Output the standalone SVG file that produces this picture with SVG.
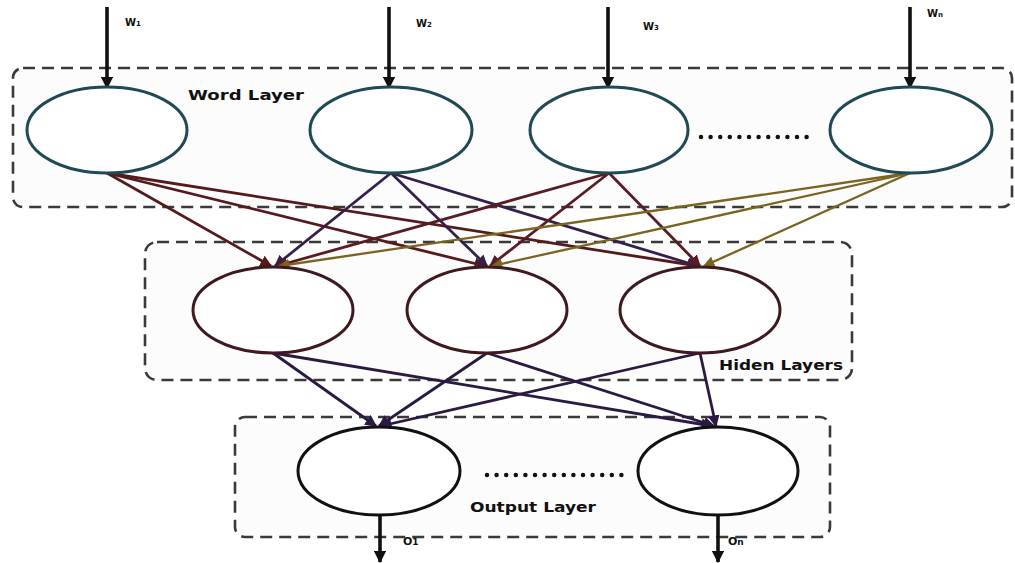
<svg xmlns="http://www.w3.org/2000/svg" width="1015" height="563" viewBox="0 0 1015 563">
  <style>
    .layer { fill: #fcfcfc; stroke: #3a3a3a; stroke-width: 2.6; stroke-dasharray: 12 7; }
    .word { fill: #ffffff; stroke: #1f4a55; stroke-width: 3; }
    .hidden { fill: #ffffff; stroke: #3e1a1e; stroke-width: 3; }
    .out { fill: #ffffff; stroke: #111111; stroke-width: 3; }
    .io { stroke: #111; stroke-width: 3.6; fill: none; }
    .lbl { font-family: "DejaVu Sans", "Liberation Sans", sans-serif; font-weight: bold; fill: #111; }
    .dots { stroke: #111; stroke-width: 4.5; stroke-dasharray: 0 9.6; stroke-linecap: round; }
    .c1 { stroke: #551a1c; stroke-width: 2.8; fill: none; }
    .c2 { stroke: #36204a; stroke-width: 2.8; fill: none; }
    .c3 { stroke: #5a1b22; stroke-width: 2.8; fill: none; }
    .c4 { stroke: #7a6420; stroke-width: 2.3; fill: none; }
    .c5 { stroke: #2a1a42; stroke-width: 2.8; fill: none; }
  </style>
  <defs>
    <marker id="headIO" viewBox="0 0 10 10" refX="9" refY="5" markerWidth="3.4" markerHeight="3.4" orient="auto">
      <path d="M0,0 L10,5 L0,10 Z" fill="#111"/>
    </marker>
    <marker id="h1" viewBox="0 0 10 10" refX="9" refY="5" markerWidth="4.2" markerHeight="4.2" orient="auto">
      <path d="M0,0 L10,5 L0,10 Z" fill="#551a1c"/>
    </marker>
    <marker id="h2" viewBox="0 0 10 10" refX="9" refY="5" markerWidth="4.2" markerHeight="4.2" orient="auto">
      <path d="M0,0 L10,5 L0,10 Z" fill="#36204a"/>
    </marker>
    <marker id="h3" viewBox="0 0 10 10" refX="9" refY="5" markerWidth="4.2" markerHeight="4.2" orient="auto">
      <path d="M0,0 L10,5 L0,10 Z" fill="#5a1b22"/>
    </marker>
    <marker id="h4" viewBox="0 0 10 10" refX="9" refY="5" markerWidth="5" markerHeight="5" orient="auto">
      <path d="M0,0 L10,5 L0,10 Z" fill="#7a6420"/>
    </marker>
    <marker id="h5" viewBox="0 0 10 10" refX="9" refY="5" markerWidth="4.2" markerHeight="4.2" orient="auto">
      <path d="M0,0 L10,5 L0,10 Z" fill="#2a1a42"/>
    </marker>
  </defs>

  <rect width="1015" height="563" fill="#ffffff"/>

  <!-- layer frames -->
  <g id="word-layer">
    <rect class="layer" x="13" y="68" width="999" height="139" rx="10"/>
    <text class="lbl" x="188" y="100" font-size="14" textLength="116" lengthAdjust="spacingAndGlyphs">Word Layer</text>
  </g>
  <g id="hidden-layer">
    <rect class="layer" x="145" y="242" width="707" height="138" rx="12"/>
    <text class="lbl" x="719" y="370" font-size="14" textLength="124" lengthAdjust="spacingAndGlyphs">Hiden Layers</text>
  </g>
  <g id="output-layer">
    <rect class="layer" x="235" y="417" width="595" height="120" rx="10"/>
    <text class="lbl" x="470" y="512" font-size="14" textLength="126" lengthAdjust="spacingAndGlyphs">Output Layer</text>
  </g>

  <!-- connectors -->
  <g id="connectors">
    <!-- word 1 -->
    <line class="c1" x1="107" y1="173" x2="271" y2="266" marker-end="url(#h1)"/>
    <line class="c1" x1="107" y1="173" x2="485" y2="266" marker-end="url(#h1)"/>
    <line class="c1" x1="107" y1="173" x2="698" y2="266" marker-end="url(#h1)"/>
    <!-- word 2 -->
    <line class="c2" x1="391" y1="173" x2="275" y2="266" marker-end="url(#h2)"/>
    <line class="c2" x1="391" y1="173" x2="487" y2="266" marker-end="url(#h2)"/>
    <line class="c2" x1="391" y1="173" x2="698" y2="266" marker-end="url(#h2)"/>
    <!-- word 3 -->
    <line class="c3" x1="609" y1="173" x2="277" y2="266" marker-end="url(#h3)"/>
    <line class="c3" x1="609" y1="173" x2="490" y2="266" marker-end="url(#h3)"/>
    <line class="c3" x1="609" y1="173" x2="700" y2="266" marker-end="url(#h3)"/>
    <!-- word n -->
    <line class="c4" x1="910" y1="173" x2="279" y2="266" marker-end="url(#h4)"/>
    <line class="c4" x1="910" y1="173" x2="492" y2="266" marker-end="url(#h4)"/>
    <line class="c4" x1="910" y1="173" x2="704" y2="266" marker-end="url(#h4)"/>
    <!-- hidden to output -->
    <line class="c5" x1="273" y1="353" x2="376" y2="426" marker-end="url(#h5)"/>
    <line class="c5" x1="273" y1="353" x2="712" y2="426" marker-end="url(#h5)"/>
    <line class="c5" x1="487" y1="353" x2="379" y2="426" marker-end="url(#h5)"/>
    <line class="c5" x1="487" y1="353" x2="714" y2="426" marker-end="url(#h5)"/>
    <line class="c5" x1="700" y1="353" x2="381" y2="426" marker-end="url(#h5)"/>
    <line class="c5" x1="700" y1="353" x2="716" y2="426" marker-end="url(#h5)"/>
    <!-- inputs -->
    <line class="io" x1="107" y1="7" x2="107" y2="88" marker-end="url(#headIO)"/>
    <line class="io" x1="389" y1="7" x2="389" y2="88" marker-end="url(#headIO)"/>
    <line class="io" x1="608" y1="7" x2="608" y2="88" marker-end="url(#headIO)"/>
    <line class="io" x1="910" y1="7" x2="910" y2="88" marker-end="url(#headIO)"/>
    <!-- outputs -->
    <line class="io" x1="380" y1="515" x2="380" y2="562" marker-end="url(#headIO)"/>
    <line class="io" x1="718" y1="515" x2="718" y2="562" marker-end="url(#headIO)"/>
  </g>

  <!-- word nodes -->
  <g id="word1"><ellipse class="word" cx="107" cy="130" rx="80" ry="43"/>
    <text class="lbl" x="125" y="26" font-size="10">W<tspan font-size="7">1</tspan></text></g>
  <g id="word2"><ellipse class="word" cx="391" cy="130" rx="81" ry="43"/>
    <text class="lbl" x="416" y="27" font-size="10">W<tspan font-size="7">2</tspan></text></g>
  <g id="word3"><ellipse class="word" cx="609" cy="130" rx="79" ry="43"/>
    <text class="lbl" x="643" y="30" font-size="10">W<tspan font-size="7">3</tspan></text></g>
  <g id="word-dots"><line class="dots" x1="701" y1="137" x2="816" y2="137"/></g>
  <g id="wordn"><ellipse class="word" cx="911" cy="130" rx="81" ry="43"/>
    <text class="lbl" x="927" y="17" font-size="10">W<tspan font-size="7">n</tspan></text></g>

  <!-- hidden nodes -->
  <g id="hidden1"><ellipse class="hidden" cx="273" cy="310" rx="80" ry="43"/></g>
  <g id="hidden2"><ellipse class="hidden" cx="487" cy="310" rx="80" ry="43"/></g>
  <g id="hidden3"><ellipse class="hidden" cx="700" cy="310" rx="80" ry="43"/></g>

  <!-- output nodes -->
  <g id="output1"><ellipse class="out" cx="379" cy="471" rx="81" ry="44"/>
    <text class="lbl" x="403" y="545" font-size="11">O<tspan font-size="9">1</tspan></text></g>
  <g id="output-dots"><line class="dots" x1="487" y1="475" x2="630" y2="475"/></g>
  <g id="outputn"><ellipse class="out" cx="718" cy="471" rx="80" ry="44"/>
    <text class="lbl" x="728" y="545" font-size="11">O<tspan font-size="9">n</tspan></text></g>
</svg>
